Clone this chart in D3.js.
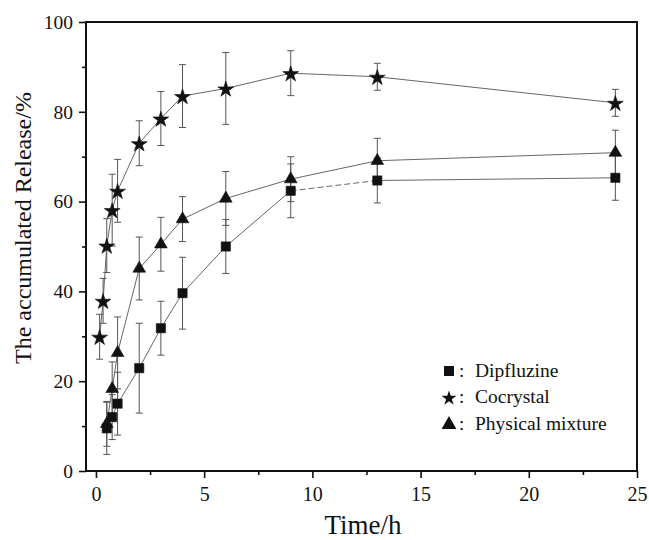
<!DOCTYPE html>
<html><head><meta charset="utf-8">
<script src="https://cdn.jsdelivr.net/npm/d3@7"></script>
<style>body{margin:0;background:#fff}svg{display:block}</style>
</head><body><svg id="c" width="649" height="540"></svg>
<script>
const xTicks = [0, 5, 10, 15, 20, 25];
const yTicks = [0, 20, 40, 60, 80, 100];

const dipTime = [0.5, 0.75, 1, 2, 3, 4, 6, 9, 13, 24];
const dipVal  = [9.5, 12.0, 15.0, 22.9, 31.8, 39.6, 50.0, 62.4, 64.7, 65.3];
const dipErr  = [5.8, 5.0, 7.0, 10.0, 6.0, 8.0, 6.0, 6.0, 5.0, 5.0];

const coTime = [0.17, 0.33, 0.5, 0.75, 1, 2, 3, 4, 6, 9, 13, 24];
const coVal  = [29.9, 37.9, 50.2, 58.1, 62.4, 73.0, 78.5, 83.5, 85.2, 88.6, 87.8, 82.0];
const coErr  = [5.0, 5.0, 6.0, 8.0, 7.0, 5.0, 6.0, 7.0, 8.0, 5.0, 3.0, 3.0];

const pmTime = [0.5, 0.75, 1, 2, 3, 4, 6, 9, 13, 24];
const pmVal  = [10.5, 18.3, 26.3, 45.1, 50.5, 56.1, 60.7, 65.0, 69.1, 70.9];
const pmErr  = [5.0, 6.0, 8.0, 7.0, 6.0, 5.0, 6.0, 5.0, 5.0, 5.0];

const legendLabels = ["Dipfluzine", "Cocrystal", "Physical mixture"];

const FONT = '"Liberation Serif", "Times New Roman", Times';
const svg = d3.select("#c");
const L = 86, R = 637, T = 22, B = 471;
const x = d3.scaleLinear().domain([-0.46, 25]).range([L, R]);
const y = d3.scaleLinear().domain([0, 100]).range([B, T]);

const series = [
  {t: dipTime, v: dipVal, e: dipErr, sym: d3.symbolSquare, size: 85, dy: 0},
  {t: coTime, v: coVal, e: coErr, sym: d3.symbolStar, size: 78, dy: 1},
  {t: pmTime, v: pmVal, e: pmErr, sym: d3.symbolTriangle, size: 70, dy: 0}
];

// error bars
const eg = svg.append("g").attr("stroke", "#555").attr("stroke-width", 1);
series.forEach(s => {
  s.t.forEach((t, i) => {
    const cx = x(t), y1 = y(s.v[i] + s.e[i]), y2 = y(s.v[i] - s.e[i]);
    eg.append("line").attr("x1", cx).attr("x2", cx).attr("y1", y1).attr("y2", y2);
    eg.append("line").attr("x1", cx - 3.5).attr("x2", cx + 3.5).attr("y1", y1).attr("y2", y1);
    eg.append("line").attr("x1", cx - 3.5).attr("x2", cx + 3.5).attr("y1", y2).attr("y2", y2);
  });
});

// lines
const line = d3.line().x(d => x(d[0])).y(d => y(d[1]));
const addPath = (pts, dash) => {
  const p = svg.append("path").attr("d", line(pts)).attr("fill", "none").attr("stroke", "#555").attr("stroke-width", 0.9);
  if (dash) p.attr("stroke-dasharray", dash);
};
series.forEach((s, k) => {
  const pts = s.t.map((t, i) => [t, s.v[i]]);
  if (k === 0) {
    addPath(pts.slice(0, 8));
    addPath(pts.slice(7, 9), "6,3");
    addPath(pts.slice(8));
  } else {
    addPath(pts);
  }
});

// markers
series.forEach(s => {
  const gen = d3.symbol().type(s.sym).size(s.size);
  s.t.forEach((t, i) => {
    svg.append("path").attr("d", gen())
      .attr("transform", `translate(${x(t)},${y(s.v[i]) + s.dy})`)
      .attr("fill", "#111").attr("stroke", "#111").attr("stroke-width", 0.6);
  });
});

// axes
const styleAxis = (g, fs) => {
  g.select(".domain").remove();
  g.selectAll(".tick line").attr("stroke", "#111").attr("stroke-width", 1.6);
  g.selectAll(".tick text").style("font-family", FONT).style("font-size", fs + "px").attr("fill", "#111");
};
const gx = svg.append("g").attr("transform", `translate(0,${B})`)
  .call(d3.axisBottom(x).tickValues(xTicks).tickSize(7).tickPadding(9).tickFormat(d3.format("d")));
styleAxis(gx, 20);
const gxm = svg.append("g").attr("transform", `translate(0,${B})`)
  .call(d3.axisBottom(x).tickValues([2.5, 7.5, 12.5, 17.5, 22.5]).tickSize(4).tickFormat(""));
styleAxis(gxm, 20);
const gy = svg.append("g").attr("transform", `translate(${L},0)`)
  .call(d3.axisLeft(y).tickValues(yTicks).tickSize(7).tickPadding(6).tickFormat(d3.format("d")));
styleAxis(gy, 19.5);
const gym = svg.append("g").attr("transform", `translate(${L},0)`)
  .call(d3.axisLeft(y).tickValues([10, 30, 50, 70, 90]).tickSize(4).tickFormat(""));
styleAxis(gym, 19.5);

svg.append("rect").attr("x", L).attr("y", T).attr("width", R - L).attr("height", B - T)
  .attr("fill", "none").attr("stroke", "#111").attr("stroke-width", 2);

// titles
svg.append("text").attr("x", 363).attr("y", 534).attr("text-anchor", "middle")
  .style("font-family", FONT).style("font-size", "27px").attr("fill", "#111").text("Time/h");
svg.append("text").attr("transform", "translate(31,228) rotate(-90)").attr("text-anchor", "middle")
  .style("font-family", FONT).style("font-size", "24px").attr("fill", "#111").text("The accumulated Release/%");

// legend
const lg = svg.append("g");
const lsym = [d3.symbolSquare, d3.symbolStar, d3.symbolTriangle];
const lsz = [100, 70, 95];
legendLabels.forEach((lab, i) => {
  const cy = 371 + i * 26.3;
  lg.append("path").attr("d", d3.symbol().type(lsym[i]).size(lsz[i])())
    .attr("transform", `translate(449,${cy + (i === 0 ? 0 : 1)})`).attr("fill", "#111");
  lg.append("text").attr("x", 459).attr("y", cy + 6)
    .style("font-family", FONT).style("font-size", "19px").attr("fill", "#111").text(":");
  lg.append("text").attr("x", 475).attr("y", cy + 6)
    .style("font-family", FONT).style("font-size", "19.5px").attr("fill", "#111").text(lab);
});
</script></body></html>
